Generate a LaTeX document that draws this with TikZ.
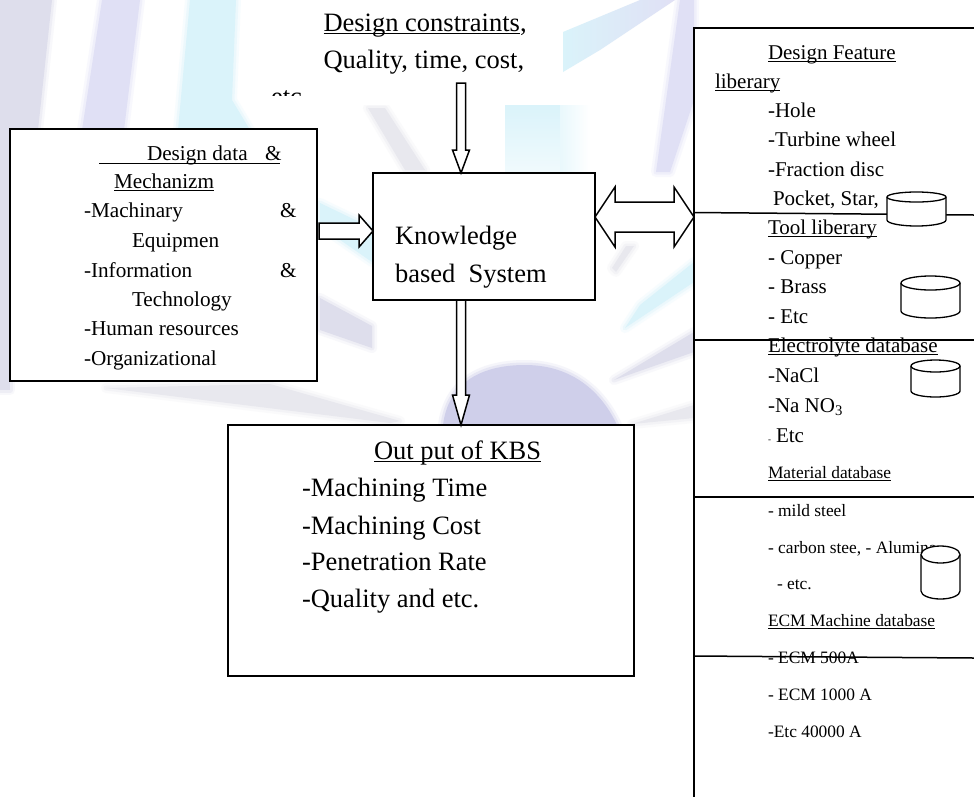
\documentclass[tikz,border=0pt]{standalone}
\usepackage{fontspec}
\setmainfont{Liberation Serif}
\usetikzlibrary{calc}
\definecolor{wmlilac}{HTML}{E0E0F5}
\definecolor{wmgreylil}{HTML}{DEDEEC}
\definecolor{wmdome}{HTML}{CFCFEA}
\definecolor{wmcyan}{HTML}{DAF3FA}
\definecolor{wmgrey}{HTML}{E8E8EE}
\tikzset{
  soft/.style={fill=#1,
    preaction={draw=#1,line width=10pt,opacity=.2,line join=round},
    preaction={draw=#1,line width=5pt,opacity=.35,line join=round}},
  box/.style={draw=black,fill=white,line width=1.35pt,inner sep=0pt,outer sep=0pt,anchor=north west},
  fat/.style={draw=black,fill=white,line width=1.5pt,line join=miter},
  rule/.style={draw=black,line width=1.5pt},
  can/.style={draw=black,fill=white,line width=1.3pt},
  txt/.style={anchor=base west,inner sep=0pt,outer sep=0pt,text=black},
  big/.style={txt,font=\fontsize{26.5}{30}\selectfont},
  mid/.style={txt,font=\fontsize{21.2}{25}\selectfont},
  rgt/.style={txt,font=\fontsize{21}{25}\selectfont},
  sml/.style={txt,font=\fontsize{17.4}{21}\selectfont},
}
\newcommand{\ull}[1]{\setbox0\hbox{#1}\rlap{\rule[-3.2pt]{\wd0}{1.3pt}}\box0 }
\begin{document}
\begin{tikzpicture}[x=1pt,y=-1pt]
\useasboundingbox (0,0) rectangle (974,796);
\fill[white] (0,0) rectangle (974,796);
% watermark
\path[soft=wmgreylil] (0,0) -- (52,0) -- (38,130) -- (0,130) -- cycle;
\path[soft=wmgreylil] (0,130) -- (10,130) -- (10,390) -- (0,390) -- cycle;
\path[soft=wmlilac] (102,0) -- (140,0) -- (124,130) -- (82,130) -- cycle;
\path[soft=wmcyan] (190,0) -- (236,0) -- (232,100) -- (250,130) -- (178,130) -- cycle;
\shade[left color=wmcyan,right color=wmlilac] (563,32) -- (640,0) -- (675,0) -- (600,50) -- (563,72) -- cycle;
\shade[top color=wmcyan,bottom color=wmcyan!40] (505,105) -- (563,105) -- (560,172) -- (505,172) -- cycle;
\shade[left color=wmcyan!60,right color=white] (560,105) -- (590,105) -- (590,172) -- (560,172) -- cycle;
\path[soft=wmlilac] (680,0) -- (694,0) -- (694,100) -- (670,172) -- (656,172) -- cycle;
\path[soft=wmgrey] (368,108) -- (385,108) -- (425,170) -- (405,170) -- cycle;
\path[soft=wmcyan] (320,203) -- (372,228) -- (372,262) -- (320,226) -- cycle;
\path[soft=wmgreylil] (320,298) -- (372,326) -- (372,348) -- (320,330) -- cycle;
\path[soft=wmcyan] (694,262) -- (694,282) -- (625,328) -- (640,305) -- cycle;
\path[soft=wmgrey] (612,268) -- (626,246) -- (634,246) -- (616,272) -- cycle;
\path[soft=wmgreylil] (694,332) -- (694,352) -- (614,380) -- cycle;
\path[soft=wmgrey] (694,405) -- (694,418) -- (632,424) -- cycle;
\path[soft=wmgrey] (106,388) -- (270,384) -- (400,421) -- (390,423) -- cycle;
\path[soft=wmdome] (443,425) .. controls (448,385) and (478,365) .. (525,365) .. controls (575,365) and (603,395) .. (617,425) -- cycle;
% boxes
\node[box,minimum width=307pt,minimum height=252pt] (data) at (10,129) {};
\node[box,minimum width=222pt,minimum height=127pt] (kbs) at (373,173) {};
\node[box,minimum width=406pt,minimum height=251pt] (out) at (228,425) {};
\node[box,minimum width=300pt,minimum height=790pt] (lib) at (694,28) {};
% design constraints panel
\fill[white] (248,0) rectangle (563,105);
\begin{scope}
\clip (248,0) rectangle (563,95);
\node[big] (etc) at (271,105.5) {etc};
\end{scope}
\node[big] (dc) at (323.5,31) {\ull{Design constraints},};
\node[big] (qtc) at (323.5,68) {Quality, time, cost,};
% block arrows
\coordinate (topTip) at (461,173);
\coordinate (botTip) at (461,425);
\coordinate (leftTip) at (373,231);
\coordinate (dblL) at (595,217);
\coordinate (dblR) at (694,217);
\draw[fat] (topTip) -- ++(8.5,-23) -- ++(-4,0) -- ++(0,-67) -- ++(-9,0) -- ++(0,67) -- ++(-4,0) -- cycle;
\draw[fat] (botTip) -- ++(8.5,-30) -- ++(-4,0) -- ($(kbs.south west)+(92.5,0)$) -- ($(kbs.south west)+(83.5,0)$) -- ($(botTip)+(-4.5,-30)$) -- ++(-4,0) -- cycle;
\draw[fat] (leftTip) -- ++(-14,-16) -- ++(0,8) -- ++(-40,0) -- ++(0,16) -- ++(40,0) -- ++(0,8) -- cycle;
\draw[fat] (dblL) -- ++(20,-30) -- ++(0,15) -- ++(59,0) -- ++(0,-15) -- (dblR) -- ++(-20,30) -- ++(0,-15) -- ++(-59,0) -- ++(0,15) -- cycle;
% data box text
\node[mid] (d1) at (147,160) {Design data};
\node[mid] (d1b) at (265,160) {\&};
\draw[black,line width=1.3pt] (99,163.5) -- (280,163.5);
\node[mid] (d2) at (114,188) {\ull{Mechanizm}};
\node[mid] (d3) at (84,217) {-Machinary};
\node[mid] (d3b) at (280,217) {\&};
\node[mid] (d4) at (132,247) {Equipmen};
\node[mid] (d5) at (84,277) {-Information};
\node[mid] (d5b) at (280,277) {\&};
\node[mid] (d6) at (132,306) {Technology};
\node[mid] (d7) at (84,335) {-Human resources};
\node[mid] (d8) at (84,365) {-Organizational};
% kbs text
\node[big] (k1) at (395,244) {Knowledge};
\node[big] (k2) at (395,282) {based\hspace{0.5em}System};
% output text
\node[big] (o1) at (374,459) {\ull{Out put of KBS}};
\node[big] (o2) at (302,496) {-Machining Time};
\node[big] (o3) at (302,534) {-Machining Cost};
\node[big] (o4) at (302,570) {-Penetration Rate};
\node[big] (o5) at (302,607) {-Quality and etc.};
% library text
\node[rgt] (l1) at (768,59) {\ull{Design Feature}};
\node[rgt] (l2) at (715,88) {\ull{liberary}};
\node[rgt] (l3) at (768,117) {-Hole};
\node[rgt] (l4) at (768,146) {-Turbine wheel};
\node[rgt] (l5) at (768,176) {-Fraction disc};
\node[rgt] (l6) at (773,205) {Pocket, Star,};
\node[rgt] (l7) at (768,234) {\ull{Tool liberary}};
\node[rgt] (l8) at (768,264) {- Copper};
\node[rgt] (l9) at (768,293) {- Brass};
\node[rgt] (l10) at (768,323) {- Etc};
\node[rgt] (l11) at (768,352) {\ull{Electrolyte database}};
\node[rgt] (l12) at (768,382) {-NaCl};
\node[rgt] (l13) at (768,412) {-Na NO\textsubscript{3}};
\node[txt,font=\fontsize{9}{10}\selectfont] (l14a) at (768,442) {-};
\node[rgt] (l14) at (776,442) {Etc};
\node[sml] (m1) at (768,478) {\ull{Material database}};
\node[sml] (m2) at (768,516) {- mild steel};
\node[sml] (m3) at (768,553) {- carbon stee, - Alumina};
\node[sml] (m4) at (777,589) {- etc.};
\node[sml] (m5) at (768,626) {\ull{ECM Machine database}};
\node[sml] (m6) at (768,663) {- ECM 500A};
\node[sml] (m7) at (768,700) {- ECM 1000 A};
\node[sml] (m8) at (768,737) {-Etc 40000 A};
% library rules
\coordinate (r1a) at (694,212.5); \coordinate (r1b) at (974,215);
\coordinate (r2a) at (694,340); \coordinate (r2b) at (974,340);
\coordinate (r3a) at (694,497); \coordinate (r3b) at (974,497);
\coordinate (r4a) at (694,656); \coordinate (r4b) at (974,658);
\draw[rule] (r1a) -- (r1b);
\draw[rule] (r2a) -- (r2b);
\draw[rule] (r3a) -- (r3b);
\draw[rule] (r4a) -- (r4b);
% database cans (y axis points down, so angle 90 is the lowest point)
\draw[can] (887,197) arc[x radius=29.5,y radius=5,start angle=180,end angle=360] -- (946,220) arc[x radius=29.5,y radius=6,start angle=0,end angle=180] -- cycle;
\draw[can] (887,197) arc[x radius=29.5,y radius=5,start angle=180,end angle=0];
\draw[can] (901,283) arc[x radius=29.5,y radius=7,start angle=180,end angle=360] -- (960,311) arc[x radius=29.5,y radius=7,start angle=0,end angle=180] -- cycle;
\draw[can] (901,283) arc[x radius=29.5,y radius=7,start angle=180,end angle=0];
\draw[can] (911,366) arc[x radius=24.5,y radius=6,start angle=180,end angle=360] -- (960,391) arc[x radius=24.5,y radius=6,start angle=0,end angle=180] -- cycle;
\draw[can] (911,366) arc[x radius=24.5,y radius=6,start angle=180,end angle=0];
\draw[can] (921,554.5) arc[x radius=19.5,y radius=8.5,start angle=180,end angle=360] -- (960,591) arc[x radius=19.5,y radius=8,start angle=0,end angle=180] -- cycle;
\draw[can] (921,554.5) arc[x radius=19.5,y radius=8.5,start angle=180,end angle=0];
\end{tikzpicture}
\end{document}
